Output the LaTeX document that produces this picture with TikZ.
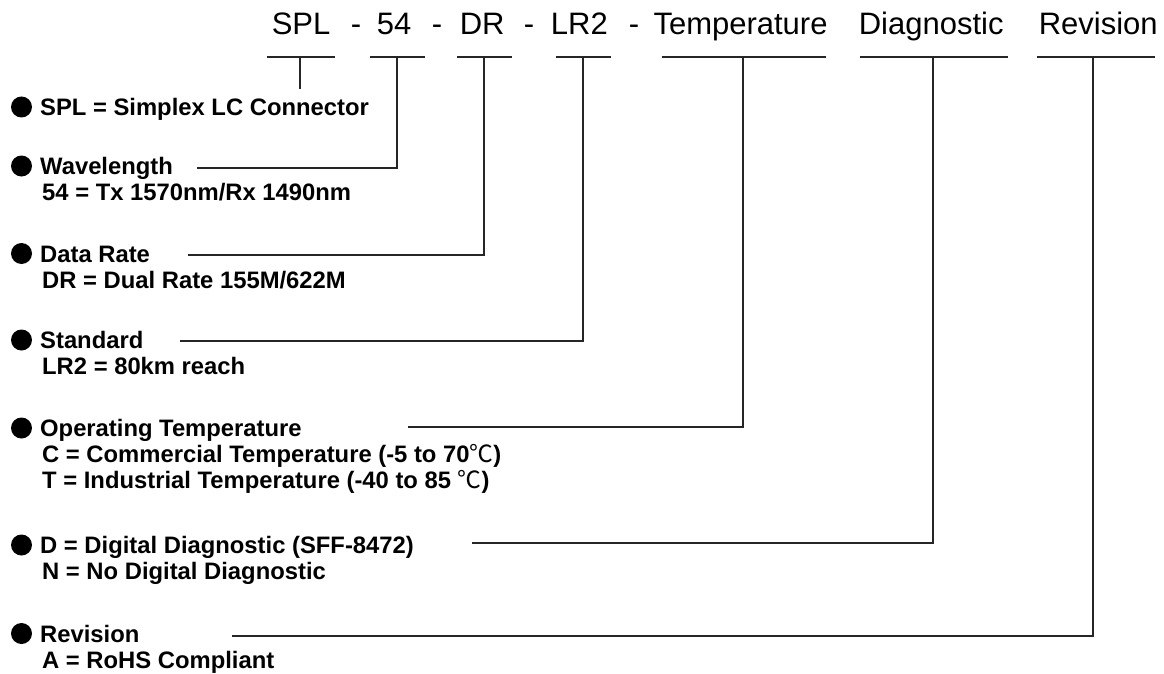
\documentclass[tikz,border=0pt]{standalone}
\usepackage{fontspec}
\setmainfont{Liberation Sans}
\newfontfamily\cjk{Noto Sans CJK SC}
\newcommand{\degc}{{\cjk\mdseries ℃}}
\begin{document}
\begin{tikzpicture}[x=1pt,y=-1pt,
  title/.style={anchor=base west, inner sep=0pt, font=\fontsize{31}{36}\selectfont},
  desc/.style={anchor=base west, inner sep=0pt, font=\fontsize{23.8}{26}\selectfont\bfseries},
  dot/.style={circle, fill=black, minimum size=21pt, inner sep=0pt},
  ln/.style={draw=black!85, line width=1.3pt}]
\useasboundingbox (0,0) rectangle (1164,674);
% title
\node[title] (tSPL) at (271.6,35) {SPL};
\node[title] (d1) at (350.6,35) {-};
\node[title] (t54) at (376.7,35) {54};
\node[title] (d2) at (431.6,35) {-};
\node[title] (tDR) at (459.6,35) {DR};
\node[title] (d3) at (523.6,35) {-};
\node[title] (tLR) at (550.7,35) {LR2};
\node[title] (d4) at (628.6,35) {-};
\node[title] (tT) at (653.3,35) {Temperature};
\node[title] (tD) at (858.6,35) {Diagnostic};
\node[title] (tR) at (1038.6,35) {Revision};
% underline segments
\coordinate (sa1) at (267,57); \coordinate (sb1) at (335,57);
\coordinate (sa2) at (370,57); \coordinate (sb2) at (425,57);
\coordinate (sa3) at (457,57); \coordinate (sb3) at (512,57);
\coordinate (sa4) at (556,57); \coordinate (sb4) at (611,57);
\coordinate (sa5) at (662,57); \coordinate (sb5) at (826,57);
\coordinate (sa6) at (860,57); \coordinate (sb6) at (1008,57);
\coordinate (sa7) at (1037,57); \coordinate (sb7) at (1155,57);
\foreach \i in {1,...,7} {\draw[ln] (sa\i) -- (sb\i);}
% bullets
\node[dot] (b1) at (21.5,107) {};
\node[dot] (b2) at (21.5,166) {};
\node[dot] (b3) at (21.5,253.5) {};
\node[dot] (b4) at (21.5,340) {};
\node[dot] (b5) at (21.5,428) {};
\node[dot] (b6) at (21.5,545) {};
\node[dot] (b7) at (21.5,633.5) {};
% descriptions
\node[desc] (l1) at (40,115.5) {SPL = Simplex LC Connector};
\node[desc] (l2) at (40,174.5) {Wavelength};
\node[desc] (l2b) at (42,200.5) {54 = Tx 1570nm/Rx 1490nm};
\node[desc] (l3) at (40,262) {Data Rate};
\node[desc] (l3b) at (42,288) {DR = Dual Rate 155M/622M};
\node[desc] (l4) at (40,348.5) {Standard};
\node[desc] (l4b) at (42,374.5) {LR2 = 80km reach};
\node[desc] (l5) at (40,436.5) {Operating Temperature};
\node[desc] (l5b) at (42,462.5) {C = Commercial Temperature (-5 to 70\degc)};
\node[desc] (l5c) at (42,488.5) {T = Industrial Temperature (-40 to 85 \degc)};
\node[desc] (l6) at (40,553.5) {D = Digital Diagnostic (SFF-8472)};
\node[desc] (l6b) at (42,579.5) {N = No Digital Diagnostic};
\node[desc] (l7) at (40,642) {Revision};
\node[desc] (l7b) at (42,668) {A = RoHS Compliant};
% connectors
\coordinate (v1) at (300,57); \coordinate (e1) at (300,89);
\coordinate (v2) at (397,57); \coordinate (e2) at (197,168);
\coordinate (v3) at (484,57); \coordinate (e3) at (188,255);
\coordinate (v4) at (583,57); \coordinate (e4) at (180,341);
\coordinate (v5) at (743,57); \coordinate (e5) at (408,427);
\coordinate (v6) at (933,57); \coordinate (e6) at (472,543);
\coordinate (v7) at (1093,57); \coordinate (e7) at (232,636);
\draw[ln] (v1) -- (e1);
\foreach \i in {2,...,7} {\draw[ln] (v\i) |- (e\i);}
\end{tikzpicture}
\end{document}
